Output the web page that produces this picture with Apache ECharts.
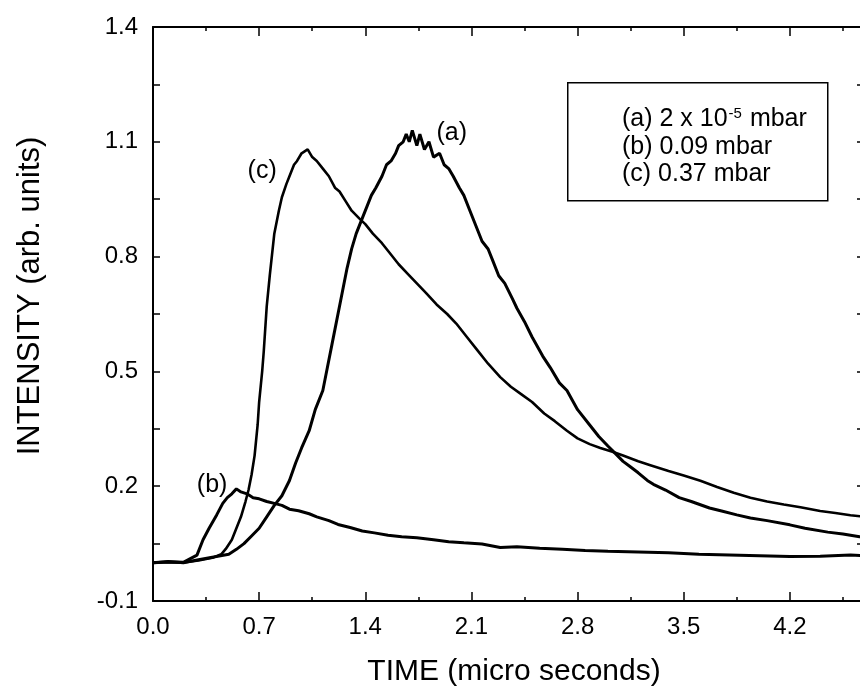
<!DOCTYPE html>
<html>
<head>
<meta charset="utf-8">
<script src="https://cdn.jsdelivr.net/npm/echarts/dist/echarts.min.js"></script>
<style>
  html, body { margin: 0; padding: 0; background: #fff; }
  #chart { width: 860px; height: 692px; }
</style>
</head>
<body>
<div id="chart"></div>
<script>
// ---------------- data ----------------
const timeA = [0, 0.1, 0.2, 0.3, 0.4, 0.5, 0.55, 0.6, 0.65, 0.7, 0.75, 0.8, 0.85, 0.9, 0.94, 0.98, 1.03, 1.07, 1.12, 1.15, 1.18, 1.21, 1.25, 1.28, 1.31, 1.34, 1.37, 1.41, 1.44, 1.47, 1.51, 1.54, 1.57, 1.6, 1.62, 1.65, 1.67, 1.69, 1.71, 1.74, 1.76, 1.79, 1.82, 1.85, 1.89, 1.92, 1.95, 1.98, 2.02, 2.05, 2.09, 2.13, 2.17, 2.21, 2.24, 2.28, 2.32, 2.37, 2.4, 2.45, 2.5, 2.57, 2.62, 2.68, 2.73, 2.8, 2.88, 2.94, 3.0, 3.05, 3.1, 3.15, 3.2, 3.26, 3.3, 3.38, 3.47, 3.55, 3.67, 3.75, 3.85, 3.94, 4.05, 4.2, 4.3, 4.45, 4.55, 4.66, 4.78, 4.9];
const intensityA = [0.000, 0.003, 0.000, 0.008, 0.015, 0.022, 0.035, 0.05, 0.07, 0.09, 0.12, 0.15, 0.175, 0.215, 0.26, 0.30, 0.345, 0.40, 0.45, 0.51, 0.57, 0.63, 0.71, 0.77, 0.82, 0.86, 0.89, 0.93, 0.96, 0.98, 1.01, 1.04, 1.05, 1.07, 1.09, 1.10, 1.12, 1.10, 1.13, 1.09, 1.12, 1.08, 1.10, 1.06, 1.07, 1.04, 1.03, 1.01, 0.98, 0.96, 0.92, 0.88, 0.84, 0.82, 0.79, 0.75, 0.73, 0.69, 0.665, 0.63, 0.59, 0.54, 0.51, 0.47, 0.45, 0.40, 0.36, 0.33, 0.305, 0.285, 0.265, 0.25, 0.235, 0.215, 0.205, 0.19, 0.17, 0.16, 0.143, 0.135, 0.125, 0.117, 0.11, 0.099, 0.09, 0.08, 0.075, 0.068, 0.064, 0.06];

const timeB = [0, 0.1, 0.2, 0.29, 0.33, 0.37, 0.42, 0.46, 0.49, 0.52, 0.55, 0.58, 0.62, 0.66, 0.7, 0.75, 0.8, 0.85, 0.9, 0.96, 1.03, 1.08, 1.16, 1.22, 1.3, 1.38, 1.46, 1.55, 1.64, 1.74, 1.85, 1.95, 2.05, 2.17, 2.29, 2.4, 2.55, 2.7, 2.85, 3.0, 3.2, 3.4, 3.6, 3.8, 4.0, 4.2, 4.4, 4.6, 4.75, 4.9];
const intensityB = [0.000, 0.002, 0.001, 0.02, 0.06, 0.09, 0.125, 0.155, 0.17, 0.18, 0.193, 0.185, 0.18, 0.17, 0.167, 0.16, 0.155, 0.15, 0.14, 0.136, 0.128, 0.12, 0.11, 0.10, 0.092, 0.083, 0.078, 0.072, 0.068, 0.065, 0.06, 0.055, 0.052, 0.049, 0.04, 0.042, 0.038, 0.035, 0.032, 0.03, 0.028, 0.026, 0.022, 0.02, 0.018, 0.016, 0.017, 0.02, 0.017, 0.015];

const timeC = [0, 0.1, 0.2, 0.3, 0.35, 0.4, 0.45, 0.48, 0.52, 0.55, 0.58, 0.61, 0.63, 0.65, 0.67, 0.69, 0.7, 0.72, 0.73, 0.75, 0.77, 0.8, 0.83, 0.85, 0.88, 0.9, 0.93, 0.95, 0.98, 1.0, 1.02, 1.05, 1.08, 1.12, 1.16, 1.2, 1.23, 1.27, 1.31, 1.36, 1.4, 1.45, 1.51, 1.56, 1.62, 1.68, 1.74, 1.8, 1.87, 1.94, 2.0, 2.07, 2.14, 2.21, 2.29, 2.36, 2.43, 2.5, 2.58, 2.65, 2.73, 2.8, 2.88, 2.95, 3.03, 3.1, 3.2, 3.28, 3.4, 3.5, 3.61, 3.72, 3.83, 3.94, 4.05, 4.16, 4.27, 4.4, 4.5, 4.6, 4.75, 4.9];
const intensityC = [0.000, 0.002, 0.001, 0.006, 0.010, 0.014, 0.022, 0.036, 0.06, 0.09, 0.12, 0.16, 0.19, 0.23, 0.28, 0.36, 0.42, 0.50, 0.55, 0.67, 0.75, 0.86, 0.92, 0.955, 0.99, 1.01, 1.04, 1.05, 1.07, 1.075, 1.08, 1.06, 1.05, 1.03, 1.01, 0.98, 0.97, 0.945, 0.92, 0.90, 0.885, 0.86, 0.835, 0.81, 0.78, 0.755, 0.73, 0.705, 0.675, 0.65, 0.625, 0.59, 0.555, 0.52, 0.485, 0.46, 0.44, 0.42, 0.39, 0.37, 0.345, 0.325, 0.31, 0.30, 0.29, 0.28, 0.265, 0.255, 0.24, 0.228, 0.214, 0.198, 0.183, 0.17, 0.16, 0.152, 0.145, 0.135, 0.13, 0.124, 0.118, 0.114];

const curveNames = ['(a)', '(b)', '(c)'];
const curveLabelAt = [[1.97, 1.124], [0.39, 0.202], [0.72, 1.024]];
const legendLines = ['(a) 2 x 10', '(b) 0.09 mbar', '(c) 0.37 mbar'];
const xTitle = 'TIME (micro seconds)';
const yTitle = 'INTENSITY (arb. units)';

// ---------------- chart ----------------
const FONT = "'Liberation Sans', Arial, Helvetica, sans-serif";
const chart = echarts.init(document.getElementById('chart'), null, { renderer: 'canvas' });

const pairs = (xs, ys) => xs.map((x, i) => [x, ys[i]]);
const black = '#000';

function xAx(pos, showLabel) {
  return {
    type: 'value', position: pos, min: 0, max: 4.9, interval: 0.7,
    axisLine: { show: true, onZero: false, lineStyle: { color: black, width: 2 } },
    axisTick: { show: true, inside: true, length: 9, lineStyle: { color: black, width: 1.5 } },
    minorTick: { show: true, splitNumber: 2, length: 4, lineStyle: { color: black, width: 1.5 } },
    splitLine: { show: false }, minorSplitLine: { show: false },
    axisLabel: {
      show: showLabel, color: black, fontSize: 24, fontFamily: FONT, margin: 14,
      formatter: v => (v > 4.5 ? '' : v.toFixed(1))
    }
  };
}
function yAx(pos, showLabel, offset, showLine) {
  return {
    type: 'value', position: pos, offset: offset, min: -0.1, max: 1.4, interval: 0.3,
    axisLine: { show: showLine, onZero: false, lineStyle: { color: black, width: 2 } },
    axisTick: { show: true, inside: true, length: 7, lineStyle: { color: black, width: 1.5 } },
    minorTick: { show: true, splitNumber: 2, length: 7, lineStyle: { color: black, width: 1.5 } },
    splitLine: { show: false }, minorSplitLine: { show: false },
    axisLabel: {
      show: showLabel, color: black, fontSize: 24, fontFamily: FONT, margin: 15,
      formatter: v => v.toFixed(1)
    }
  };
}

const seriesData = [pairs(timeA, intensityA), pairs(timeB, intensityB), pairs(timeC, intensityC)];

const option = {
  animation: false,
  backgroundColor: '#fff',
  grid: { left: 153, top: 27, width: 743, height: 574, containLabel: false, outerBoundsMode: 'none' },
  xAxis: [xAx('bottom', true), xAx('top', false)],
  yAxis: [yAx('left', true, 0, true), yAx('right', false, -32, false)],
  series: seriesData.map((d, i) => ({
    type: 'line',
    name: curveNames[i],
    data: d,
    xAxisIndex: 0, yAxisIndex: 0,
    showSymbol: false, symbol: 'none',
    lineStyle: { color: black, width: i === 2 ? 2.6 : 3 },
    markPoint: {
      silent: true, symbol: 'circle', symbolSize: 1,
      itemStyle: { color: 'rgba(0,0,0,0)' },
      label: { show: true, position: 'inside', formatter: curveNames[i], color: black, fontSize: 25, fontFamily: FONT },
      data: [{ coord: curveLabelAt[i] }]
    }
  })),
  graphic: [
    { type: 'rect', left: 567, top: 82, shape: { width: 260, height: 118 },
      style: { fill: '#fff', stroke: black, lineWidth: 1.5 }, z: 100 },
    { type: 'text', x: 622, y: 119, z: 101,
      style: { text: '{n|' + legendLines[0] + '}{s|-5}{n| mbar}', align: 'left', verticalAlign: 'middle', fill: black,
        rich: { n: { fontSize: 25, fontFamily: FONT, fill: black }, s: { fontSize: 15, fontFamily: FONT, verticalAlign: 'top', fill: black, padding: [0, 1, 0, 1] } } } },
    { type: 'text', x: 622, y: 147, z: 101,
      style: { text: legendLines[1], fontSize: 25, fontFamily: FONT, fill: black, align: 'left', verticalAlign: 'middle' } },
    { type: 'text', x: 622, y: 174, z: 101,
      style: { text: legendLines[2], fontSize: 25, fontFamily: FONT, fill: black, align: 'left', verticalAlign: 'middle' } },
    { type: 'text', x: 514, y: 672,
      style: { text: xTitle, fontSize: 30, fontFamily: FONT, fill: black, align: 'center', verticalAlign: 'middle' } },
    { type: 'text', x: 30, y: 296, rotation: Math.PI / 2,
      style: { text: yTitle, fontSize: 31, fontFamily: FONT, fill: black, align: 'center', verticalAlign: 'middle' } }
  ]
};
chart.setOption(option);
</script>
</body>
</html>
